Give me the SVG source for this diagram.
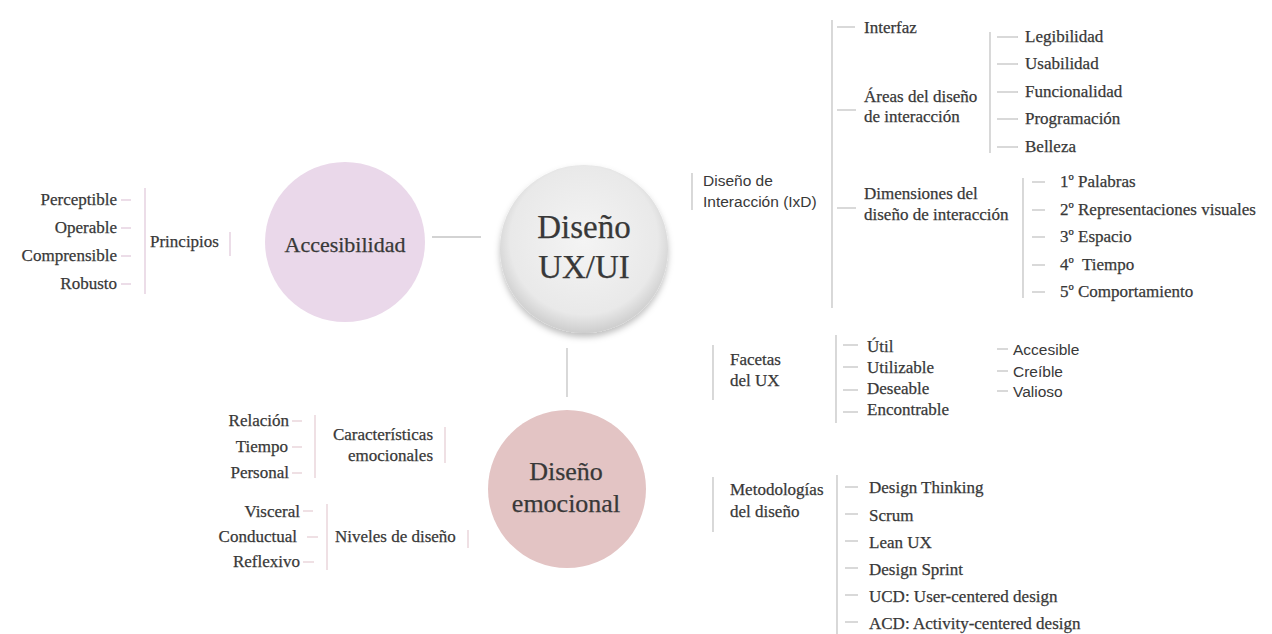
<svg xmlns="http://www.w3.org/2000/svg" width="1272" height="634" viewBox="0 0 1272 634">
  <style>
    .serif { font-family: "Liberation Serif", "Times New Roman", serif; fill: #383838; stroke: #383838; stroke-width: 0.25; }
    .sans { font-family: "Liberation Sans", Arial, sans-serif; fill: #383838; }
    .t17 { font-size: 17px; }
    .end { text-anchor: end; }
    .mid { text-anchor: middle; }
    .ln { stroke: #c4c4c4; stroke-width: 1.3; fill: none; }
    .lnp { stroke: #e2cbdc; stroke-width: 1.3; fill: none; }
    .lnr { stroke: #e6cfd6; stroke-width: 1.3; fill: none; }
  </style>
  <defs>
    <radialGradient id="gCore" cx="50%" cy="45%" r="55%">
      <stop offset="0%" stop-color="#f4f4f4"/>
      <stop offset="80%" stop-color="#e9e9e9"/>
      <stop offset="100%" stop-color="#cdcdcd"/>
    </radialGradient>
    <filter id="shadow" x="-20%" y="-20%" width="140%" height="150%">
      <feDropShadow dx="0" dy="4" stdDeviation="3" flood-color="#000" flood-opacity="0.25"/>
    </filter>
  </defs>

  <rect width="1272" height="634" fill="#ffffff"/>

  <!-- connectors -->
  <g id="connectors">
    <!-- hub links -->
    <line class="ln" x1="432" y1="237" x2="481" y2="237"/>
    <line class="ln" x1="567" y1="348" x2="567" y2="397"/>

    <!-- Principios branch -->
    <line class="lnp" x1="145" y1="188" x2="145" y2="294"/>
    <line class="lnp" x1="121" y1="200" x2="131" y2="200"/>
    <line class="lnp" x1="121" y1="228" x2="131" y2="228"/>
    <line class="lnp" x1="121" y1="256" x2="131" y2="256"/>
    <line class="lnp" x1="121" y1="284" x2="131" y2="284"/>
    <line class="lnp" x1="230" y1="232" x2="230" y2="256"/>

    <!-- Caracteristicas emocionales branch -->
    <line class="lnr" x1="315" y1="415" x2="315" y2="478"/>
    <line class="lnr" x1="292" y1="421" x2="302" y2="421"/>
    <line class="lnr" x1="292" y1="447" x2="302" y2="447"/>
    <line class="lnr" x1="292" y1="473" x2="302" y2="473"/>
    <line class="lnr" x1="445" y1="427" x2="445" y2="463"/>

    <!-- Niveles de diseno branch -->
    <line class="lnr" x1="327" y1="504" x2="327" y2="570"/>
    <line class="lnr" x1="303" y1="511" x2="313" y2="511"/>
    <line class="lnr" x1="307" y1="537" x2="318" y2="537"/>
    <line class="lnr" x1="303" y1="562" x2="314" y2="562"/>
    <line class="lnr" x1="468" y1="530" x2="468" y2="548"/>

    <!-- Diseno de Interaccion branch -->
    <line class="ln" x1="692" y1="173" x2="692" y2="210"/>
    <line class="ln" x1="832" y1="20" x2="832" y2="308"/>
    <line class="ln" x1="837" y1="27" x2="855" y2="27"/>
    <line class="ln" x1="837" y1="110" x2="856" y2="110"/>
    <line class="ln" x1="837" y1="208" x2="856" y2="208"/>

    <line class="ln" x1="990" y1="32" x2="990" y2="153"/>
    <line class="ln" x1="997" y1="37" x2="1018" y2="37"/>
    <line class="ln" x1="997" y1="64" x2="1018" y2="64"/>
    <line class="ln" x1="997" y1="92" x2="1018" y2="92"/>
    <line class="ln" x1="997" y1="119" x2="1018" y2="119"/>
    <line class="ln" x1="997" y1="147" x2="1018" y2="147"/>

    <line class="ln" x1="1023" y1="178" x2="1023" y2="298"/>
    <line class="ln" x1="1032" y1="182" x2="1045" y2="182"/>
    <line class="ln" x1="1032" y1="210" x2="1045" y2="210"/>
    <line class="ln" x1="1032" y1="237" x2="1045" y2="237"/>
    <line class="ln" x1="1032" y1="265" x2="1045" y2="265"/>
    <line class="ln" x1="1032" y1="292" x2="1045" y2="292"/>

    <!-- Facetas del UX branch -->
    <line class="ln" x1="713" y1="345" x2="713" y2="400"/>
    <line class="ln" x1="836" y1="335" x2="836" y2="423"/>
    <line class="ln" x1="843" y1="345" x2="858" y2="345"/>
    <line class="ln" x1="843" y1="367" x2="858" y2="367"/>
    <line class="ln" x1="843" y1="390" x2="858" y2="390"/>
    <line class="ln" x1="843" y1="412" x2="858" y2="412"/>
    <line class="ln" x1="997" y1="349" x2="1008" y2="349"/>
    <line class="ln" x1="997" y1="371" x2="1008" y2="371"/>
    <line class="ln" x1="997" y1="391" x2="1008" y2="391"/>

    <!-- Metodologias del diseno branch -->
    <line class="ln" x1="713" y1="477" x2="713" y2="532"/>
    <line class="ln" x1="837" y1="475" x2="837" y2="634"/>
    <line class="ln" x1="845" y1="487" x2="858" y2="487"/>
    <line class="ln" x1="845" y1="514" x2="858" y2="514"/>
    <line class="ln" x1="845" y1="541" x2="858" y2="541"/>
    <line class="ln" x1="845" y1="568" x2="858" y2="568"/>
    <line class="ln" x1="845" y1="595" x2="858" y2="595"/>
    <line class="ln" x1="845" y1="622" x2="858" y2="622"/>
  </g>

  <!-- central hub -->
  <g id="node-core">
    <circle cx="584" cy="249" r="84" fill="url(#gCore)" filter="url(#shadow)"/>
    <text class="serif mid" x="584" y="238" font-size="33">Diseño</text>
    <text class="serif mid" x="584" y="278" font-size="33">UX/UI</text>
  </g>

  <!-- Accesibilidad -->
  <g id="node-accesibilidad">
    <circle cx="345" cy="242" r="80" fill="#ead8ea"/>
    <text class="serif mid" x="345" y="252" font-size="22">Accesibilidad</text>
  </g>
  <g id="node-principios">
    <text class="serif t17" x="150" y="247">Principios</text>
  </g>
  <g id="node-principios-items">
    <text class="serif t17 end" x="117" y="205">Perceptible</text>
    <text class="serif t17 end" x="117" y="233">Operable</text>
    <text class="serif t17 end" x="117" y="261">Comprensible</text>
    <text class="serif t17 end" x="117" y="289">Robusto</text>
  </g>

  <!-- Diseno emocional -->
  <g id="node-emocional">
    <circle cx="567" cy="489" r="79" fill="#e3c4c4"/>
    <text class="serif mid" x="566" y="480" font-size="26">Diseño</text>
    <text class="serif mid" x="566" y="512" font-size="26">emocional</text>
  </g>
  <g id="node-caracteristicas">
    <text class="serif t17 end" x="433" y="440">Características</text>
    <text class="serif t17 end" x="433" y="461">emocionales</text>
  </g>
  <g id="node-caracteristicas-items">
    <text class="serif t17 end" x="289" y="426">Relación</text>
    <text class="serif t17 end" x="288" y="452">Tiempo</text>
    <text class="serif t17 end" x="289" y="478">Personal</text>
  </g>
  <g id="node-niveles">
    <text class="serif t17" x="335" y="542">Niveles de diseño</text>
  </g>
  <g id="node-niveles-items">
    <text class="serif t17 end" x="300" y="517">Visceral</text>
    <text class="serif t17 end" x="297" y="542">Conductual</text>
    <text class="serif t17 end" x="300" y="567">Reflexivo</text>
  </g>

  <!-- Diseno de Interaccion (IxD) -->
  <g id="node-ixd">
    <text class="sans" x="703" y="186" font-size="15.5">Diseño de</text>
    <text class="sans" x="703" y="207" font-size="15.5">Interacción (IxD)</text>
  </g>
  <g id="node-interfaz">
    <text class="serif t17" x="864" y="33">Interfaz</text>
  </g>
  <g id="node-areas">
    <text class="serif t17" x="864" y="102">Áreas del diseño</text>
    <text class="serif t17" x="864" y="122">de interacción</text>
  </g>
  <g id="node-areas-items">
    <text class="serif t17" x="1025" y="42">Legibilidad</text>
    <text class="serif t17" x="1025" y="69">Usabilidad</text>
    <text class="serif t17" x="1025" y="97">Funcionalidad</text>
    <text class="serif t17" x="1025" y="124">Programación</text>
    <text class="serif t17" x="1025" y="152">Belleza</text>
  </g>
  <g id="node-dimensiones">
    <text class="serif t17" x="864" y="199">Dimensiones del</text>
    <text class="serif t17" x="864" y="220">diseño de interacción</text>
  </g>
  <g id="node-dimensiones-items">
    <text class="serif t17" x="1060" y="187">1º Palabras</text>
    <text class="serif t17" x="1060" y="215">2º Representaciones visuales</text>
    <text class="serif t17" x="1060" y="242">3º Espacio</text>
    <text class="serif t17" x="1060" y="270" xml:space="preserve">4º  Tiempo</text>
    <text class="serif t17" x="1060" y="297">5º Comportamiento</text>
  </g>

  <!-- Facetas del UX -->
  <g id="node-facetas">
    <text class="serif t17" x="730" y="365">Facetas</text>
    <text class="serif t17" x="730" y="386">del UX</text>
  </g>
  <g id="node-facetas-items">
    <text class="serif t17" x="867" y="352">Útil</text>
    <text class="serif t17" x="867" y="373">Utilizable</text>
    <text class="serif t17" x="867" y="394">Deseable</text>
    <text class="serif t17" x="867" y="415">Encontrable</text>
    <text class="sans" x="1013" y="355" font-size="15.5">Accesible</text>
    <text class="sans" x="1013" y="377" font-size="15.5">Creíble</text>
    <text class="sans" x="1013" y="397" font-size="15.5">Valioso</text>
  </g>

  <!-- Metodologias del diseno -->
  <g id="node-metodologias">
    <text class="serif t17" x="730" y="495">Metodologías</text>
    <text class="serif t17" x="730" y="517">del diseño</text>
  </g>
  <g id="node-metodologias-items">
    <text class="serif t17" x="869" y="493">Design Thinking</text>
    <text class="serif t17" x="869" y="521">Scrum</text>
    <text class="serif t17" x="869" y="548">Lean UX</text>
    <text class="serif t17" x="869" y="575">Design Sprint</text>
    <text class="serif t17" x="869" y="602">UCD: User-centered design</text>
    <text class="serif t17" x="869" y="629">ACD: Activity-centered design</text>
  </g>
</svg>
